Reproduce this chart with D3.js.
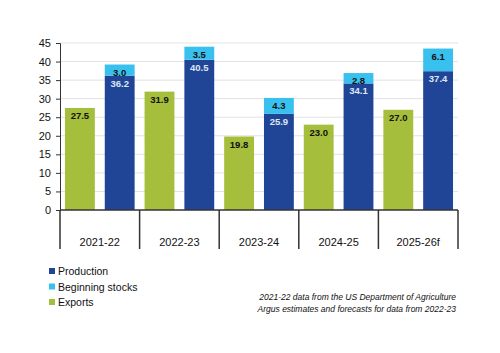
<!DOCTYPE html>
<html>
<head>
<meta charset="utf-8">
<script src="https://d3js.org/d3.v7.min.js"></script>
<style>
    body { margin: 0; background: #fff; }
    text { font-family: "Liberation Sans", Arial, sans-serif; }
</style>
</head>
<body>
<svg id="chart" width="500" height="353"></svg>
<script>
const seasons = ["2021-22", "2022-23", "2023-24", "2024-25", "2025-26f"];
const exportsValues = [27.5, 31.9, 19.8, 23.0, 27.0];
const productionValues = [36.2, 40.5, 25.9, 34.1, 37.4];
const stocksValues = [3.0, 3.5, 4.3, 2.8, 6.1];
const yTicks = [0, 5, 10, 15, 20, 25, 30, 35, 40, 45];
const legendLabels = ["Production", "Beginning stocks", "Exports"];
const noteLines = [
    "2021-22 data from the US Department of Agriculture",
    "Argus estimates and forecasts for data from 2022-23"
];

const colors = {
    exports: "#a5be3b",
    production: "#204596",
    stocks: "#38c0ee"
};

const svg = d3.select("#chart");
const plot = { left: 60, right: 458, top: 43, bottom: 210 };

const x0 = d3.scaleBand()
    .domain(seasons)
    .range([plot.left, plot.right])
    .padding(0);

const x1 = d3.scaleBand()
    .domain(["exports", "production"])
    .range([0, x0.bandwidth()])
    .paddingInner(0.25)
    .paddingOuter(0.125);

const y = d3.scaleLinear()
    .domain([0, 45])
    .range([plot.bottom, plot.top]);

// grid
svg.append("g")
    .selectAll("line")
    .data(yTicks.filter(function(d) { return d > 0; }))
    .enter()
    .append("line")
    .attr("x1", plot.left)
    .attr("x2", plot.right)
    .attr("y1", function(d) { return y(d); })
    .attr("y2", function(d) { return y(d); })
    .attr("stroke", "#e2e2e2")
    .attr("stroke-width", 1);

const yAxis = svg.append("g")
    .attr("transform", "translate(" + plot.left + ",0)")
    .call(d3.axisLeft(y).tickValues(yTicks).tickSize(4).tickPadding(5));

yAxis.select(".domain").attr("stroke", "#333");
yAxis.selectAll(".tick line").attr("stroke", "#333");
yAxis.selectAll("text")
    .attr("font-size", 11)
    .attr("fill", "#111")
    .style("font-family", "'Liberation Sans', Arial, sans-serif");

const groups = svg.append("g")
    .selectAll("g")
    .data(seasons)
    .enter()
    .append("g")
    .attr("transform", function(d) { return "translate(" + x0(d) + ",0)"; });

// exports bars
groups.append("rect")
    .attr("x", x1("exports"))
    .attr("width", x1.bandwidth())
    .attr("y", function(d, i) { return y(exportsValues[i]); })
    .attr("height", function(d, i) { return y(0) - y(exportsValues[i]); })
    .attr("fill", colors.exports);

// production bars
groups.append("rect")
    .attr("x", x1("production"))
    .attr("width", x1.bandwidth())
    .attr("y", function(d, i) { return y(productionValues[i]); })
    .attr("height", function(d, i) { return y(0) - y(productionValues[i]); })
    .attr("fill", colors.production);

// beginning stocks stacked on production
groups.append("rect")
    .attr("x", x1("production"))
    .attr("width", x1.bandwidth())
    .attr("y", function(d, i) { return y(productionValues[i] + stocksValues[i]); })
    .attr("height", function(d, i) {
        return y(productionValues[i]) - y(productionValues[i] + stocksValues[i]);
    })
    .attr("fill", colors.stocks);

function addLabels(offsetX, values, base, color) {
    groups.append("text")
        .attr("x", offsetX + x1.bandwidth() / 2)
        .attr("y", function(d, i) { return y(base(i) + values[i]) + 11; })
        .attr("text-anchor", "middle")
        .attr("font-size", 9.5)
        .attr("font-weight", "bold")
        .attr("fill", color)
        .text(function(d, i) { return values[i].toFixed(1); });
}

addLabels(x1("exports"), exportsValues, function() { return 0; }, "#111");
addLabels(x1("production"), productionValues, function() { return 0; }, "#dce8f7");
addLabels(x1("production"), stocksValues, function(i) { return productionValues[i]; }, "#111");

// category box below the axis
svg.append("line")
    .attr("x1", plot.left)
    .attr("x2", plot.right)
    .attr("y1", plot.bottom)
    .attr("y2", plot.bottom)
    .attr("stroke", "#333")
    .attr("stroke-width", 1.5);

const dividers = seasons.map(function(d) { return x0(d); }).concat([plot.right]);

svg.append("g")
    .selectAll("line")
    .data(dividers)
    .enter()
    .append("line")
    .attr("x1", function(d) { return d; })
    .attr("x2", function(d) { return d; })
    .attr("y1", plot.bottom)
    .attr("y2", 249)
    .attr("stroke", "#333")
    .attr("stroke-width", 1.5);

svg.append("g")
    .selectAll("text")
    .data(seasons)
    .enter()
    .append("text")
    .attr("x", function(d) { return x0(d) + x0.bandwidth() / 2; })
    .attr("y", 246)
    .attr("text-anchor", "middle")
    .attr("font-size", 11)
    .attr("fill", "#111")
    .text(function(d) { return d; });

// legend
const legendColors = [colors.production, colors.stocks, colors.exports];

const legend = svg.append("g")
    .selectAll("g")
    .data(legendLabels)
    .enter()
    .append("g")
    .attr("transform", function(d, i) { return "translate(49," + (271 + i * 15.5) + ")"; });

legend.append("rect")
    .attr("x", 0)
    .attr("y", -3)
    .attr("width", 6)
    .attr("height", 6)
    .attr("fill", function(d, i) { return legendColors[i]; });

legend.append("text")
    .attr("x", 9)
    .attr("y", 4)
    .attr("font-size", 10.5)
    .attr("fill", "#111")
    .text(function(d) { return d; });

// source note
svg.append("g")
    .selectAll("text")
    .data(noteLines)
    .enter()
    .append("text")
    .attr("x", 456)
    .attr("y", function(d, i) { return 300 + i * 12; })
    .attr("text-anchor", "end")
    .attr("font-size", 8.5)
    .attr("font-style", "italic")
    .attr("fill", "#111")
    .text(function(d) { return d; });
</script>
</body>
</html>
